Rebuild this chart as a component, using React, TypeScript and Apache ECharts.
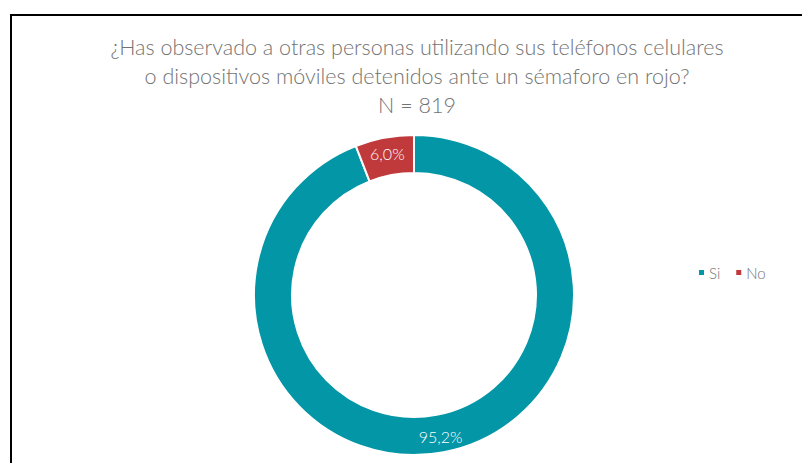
import React, { useEffect, useRef } from "react";
import * as echarts from "echarts";

const titleLines = [
  "¿Has observado a otras personas utilizando sus teléfonos celulares",
  "o dispositivos móviles detenidos ante un sémaforo en rojo?",
  "N = 819",
];
const categories = ["Si", "No"];
const values = [95.2, 6.0];
const colors = ["#0396A6", "#C0393B"];

export default function App() {
  const ref = useRef<HTMLDivElement>(null);
  useEffect(() => {
    if (!ref.current) return;
    const chart = echarts.init(ref.current, undefined, { renderer: "svg" });
    chart.setOption({
      animation: false,
      backgroundColor: "#ffffff",
      title: {
        text: titleLines.join("\n"),
        left: 412,
        textAlign: "center",
        top: 27,
        textStyle: {
          fontFamily: "Lato",
          fontSize: 21.5,
          fontWeight: 300,
          color: "#737373",
          lineHeight: 29,
        },
      },
      legend: {
        orient: "horizontal",
        left: 692,
        top: 260,
        itemWidth: 7,
        itemHeight: 7,
        itemGap: 14,
        icon: "rect",
        textStyle: { fontFamily: "Lato", fontSize: 15, fontWeight: 300, color: "#737373", padding: [0, 0, 0, -1] },
        data: categories,
      },
      graphic: [
        {
          type: "rect",
          shape: { x: 11, y: 15, width: 900, height: 600 },
          style: { fill: "none", stroke: "#000000", lineWidth: 2 },
          silent: true,
        },
      ],
      series: [
        {
          type: "pie",
          center: [414, 295],
          radius: [122, 160],
          startAngle: 90,
          clockwise: true,
          color: colors,
          itemStyle: { borderColor: "#ffffff", borderWidth: 2 },
          label: {
            show: true,
            position: "inside",
            color: "#ffffff",
            fontFamily: "Lato",
            fontSize: 16,
            fontWeight: 300,
            formatter: (p: any) => p.value.toFixed(1).replace(".", ",") + "%",
          },
          labelLine: { show: false },
          data: categories.map((c, i) => ({ name: c, value: values[i] })),
        },
      ],
    });
    return () => chart.dispose();
  }, []);
  return (
    <div
      ref={ref}
      style={{ position: "fixed", left: 0, top: 0, width: 802, height: 463 }}
    />
  );
}
